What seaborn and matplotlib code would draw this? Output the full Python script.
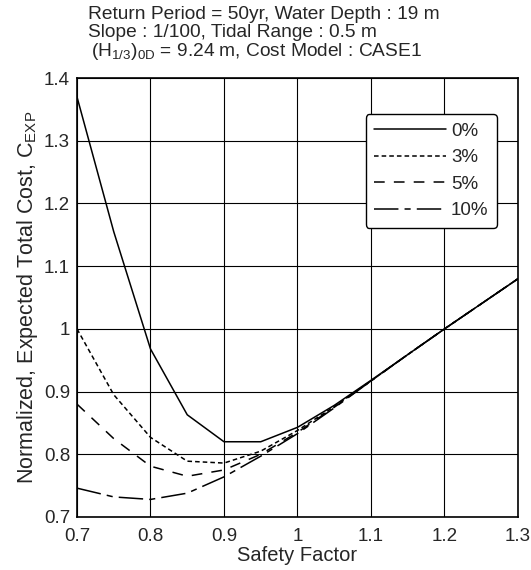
import numpy as np
import pandas as pd
import seaborn as sns
import matplotlib
matplotlib.use('Agg')
import matplotlib.pyplot as plt

# safety factor and normalized expected total cost
safety_factor = [0.7, 0.75, 0.8, 0.85, 0.9, 0.95, 1.0, 1.05, 1.1, 1.15, 1.2, 1.25, 1.3]
cost_0 = [1.37, 1.155, 0.968, 0.863, 0.82, 0.82, 0.843, 0.878, 0.918, 0.959, 1.0, 1.04, 1.08]
cost_3 = [1.0, 0.895, 0.827, 0.789, 0.786, 0.805, 0.838, 0.876, 0.917, 0.959, 1.0, 1.04, 1.08]
cost_5 = [0.88, 0.825, 0.781, 0.765, 0.775, 0.80, 0.835, 0.875, 0.917, 0.959, 1.0, 1.04, 1.08]
cost_10 = [0.746, 0.732, 0.728, 0.738, 0.764, 0.797, 0.833, 0.874, 0.917, 0.959, 1.0, 1.04, 1.08]
series_labels = ['0%', '3%', '5%', '10%']

sns.set_style("white")
plt.rcParams['font.family'] = ['Liberation Sans', 'DejaVu Sans']
plt.rcParams['mathtext.fontset'] = 'custom'
plt.rcParams['mathtext.rm'] = 'Liberation Sans'
plt.rcParams['mathtext.it'] = 'Liberation Sans'

df = pd.DataFrame({'sf': safety_factor * 4,
                   'cost': cost_0 + cost_3 + cost_5 + cost_10,
                   'case': sum([[s] * len(safety_factor) for s in series_labels], [])})

fig = plt.figure(figsize=(5.31, 5.70), dpi=100)
ax = fig.add_axes([0.145, 0.093, 0.8305, 0.77])

styles = {'0%': '-', '3%': (0, (3, 2)), '5%': (0, (7, 6)), '10%': (0, (16, 4, 4, 4))}
for lab in series_labels:
    sub = df[df['case'] == lab]
    sns.lineplot(data=sub, x='sf', y='cost', ax=ax, color='black', lw=1.1,
                 linestyle=styles[lab], label=lab)

ax.set_xlim(0.7, 1.3)
ax.set_ylim(0.7, 1.4)
ax.set_xticks(np.arange(0.7, 1.31, 0.1))
ax.set_xticklabels(['0.7', '0.8', '0.9', '1', '1.1', '1.2', '1.3'])
ax.set_yticks(np.arange(0.7, 1.41, 0.1))
ax.set_yticklabels(['0.7', '0.8', '0.9', '1', '1.1', '1.2', '1.3', '1.4'])
ax.tick_params(labelsize=13.5, length=0)
ax.tick_params(axis='x', pad=8)
ax.tick_params(axis='y', pad=5)
ax.grid(True, color='black', lw=0.8)
for sp in ax.spines.values():
    sp.set_color('black')
    sp.set_linewidth(1.2)

ax.set_xlabel('Safety Factor', fontsize=14.5, labelpad=1)
ax.set_ylabel(r'Normalized, Expected Total Cost, C$_{\mathrm{EXP}}$', fontsize=15.5, labelpad=3)

leg = ax.legend(loc='upper right', bbox_to_anchor=(0.952, 0.918), borderaxespad=0,
                fontsize=13.5, handlelength=3.85, handletextpad=0.25, frameon=True,
                fancybox=True, edgecolor='black', framealpha=1, labelspacing=0.5,
                borderpad=0.45)
leg.get_frame().set_linewidth(1.0)

fig.text(0.166, 0.975, 'Return Period = 50yr, Water Depth : 19 m', fontsize=13.8, va='center')
fig.text(0.166, 0.943, 'Slope : 1/100, Tidal Range : 0.5 m', fontsize=13.8, va='center')
fig.text(0.172, 0.909, r'(H$_{1/3}$)$_{\mathrm{0D}}$ = 9.24 m, Cost Model : CASE1', fontsize=13.8, va='center')

plt.savefig('out.png', dpi=100)
plt.close()
